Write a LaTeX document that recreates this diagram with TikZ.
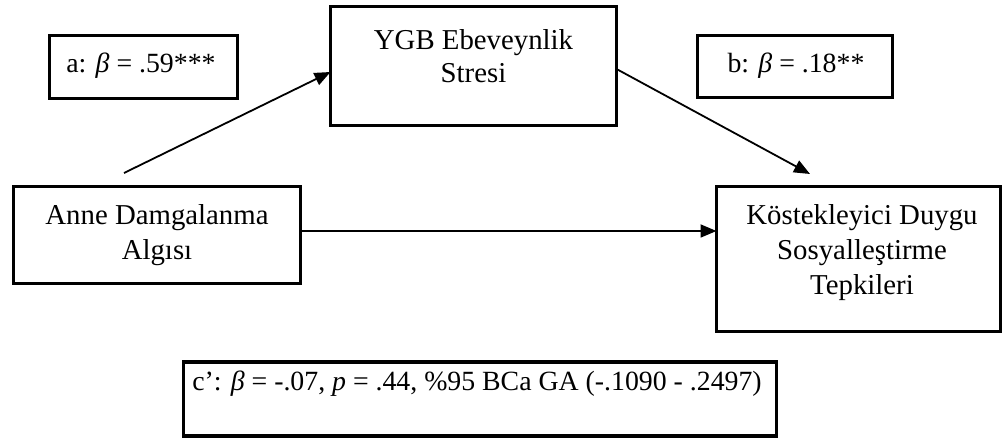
\documentclass[tikz,border=0pt]{standalone}
\usepackage{fontspec}
\setmainfont{Liberation Serif}
\usetikzlibrary{arrows.meta,calc}
\begin{document}
\begin{tikzpicture}[x=1pt,y=-1pt,
  box/.style={draw=black, line width=3.6pt, inner sep=0pt, outer sep=0pt, fill=white},
  lbl/.style={anchor=base, inner sep=0pt, font=\fontsize{28.8}{34}\selectfont},
  slbl/.style={anchor=base, inner sep=0pt, font=\fontsize{27.8}{33}\selectfont},
  arr/.style={line width=1.8pt, -{Triangle[length=16pt,width=13pt]}}]
\useasboundingbox (0,0) rectangle (1004,438);
% boxes
\node[box, minimum width=188pt, minimum height=63pt] (abox) at (143.5,67) {};
\node[box, minimum width=195pt, minimum height=62pt] (bbox) at (795,66.5) {};
\node[box, minimum width=286pt, minimum height=119pt] (ygb) at (473.5,66) {};
\node[box, minimum width=287pt, minimum height=97pt] (anne) at (157,235) {};
\node[box, minimum width=284pt, minimum height=145pt] (kost) at (858.5,259) {};
\node[box, minimum width=593pt, minimum height=74pt] (cbox) at (480,399) {};
% texts
\node[slbl] (at) at (141,73) {a: {\itshape β} = .59***};
\node[slbl] (bt) at (796,73) {b: {\itshape β} = .18**};
\node[lbl] (y1) at (473.5,50) {YGB Ebeveynlik};
\node[lbl] (y2) at (473.5,83) {Stresi};
\node[lbl] (n1) at (157,225) {Anne Damgalanma};
\node[lbl] (n2) at (157,260) {Algısı};
\node[lbl] (k1) at (862,225) {Köstekleyici Duygu};
\node[lbl] (k2) at (862,260) {Sosyalleştirme};
\node[lbl] (k3) at (862,295) {Tepkileri};
\node[slbl] (ct) at (477,390) {c’: {\itshape β} = -.07, {\itshape p} = .44, \%95 BCa GA (-.1090 - .2497)};
% connectors
\coordinate (astart) at (124,173);
\coordinate (aend) at ($(ygb.west)+(0,6)$);
\draw[arr] (astart) -- (aend);
\coordinate (bstart) at ($(ygb.east)+(0,3)$);
\coordinate (bend) at (810,174);
\draw[arr] (bstart) -- (bend);
\coordinate (cstart) at ($(anne.east)+(0,-4)$);
\draw[arr] (cstart) -- (kost.west |- cstart);
\end{tikzpicture}
\end{document}
